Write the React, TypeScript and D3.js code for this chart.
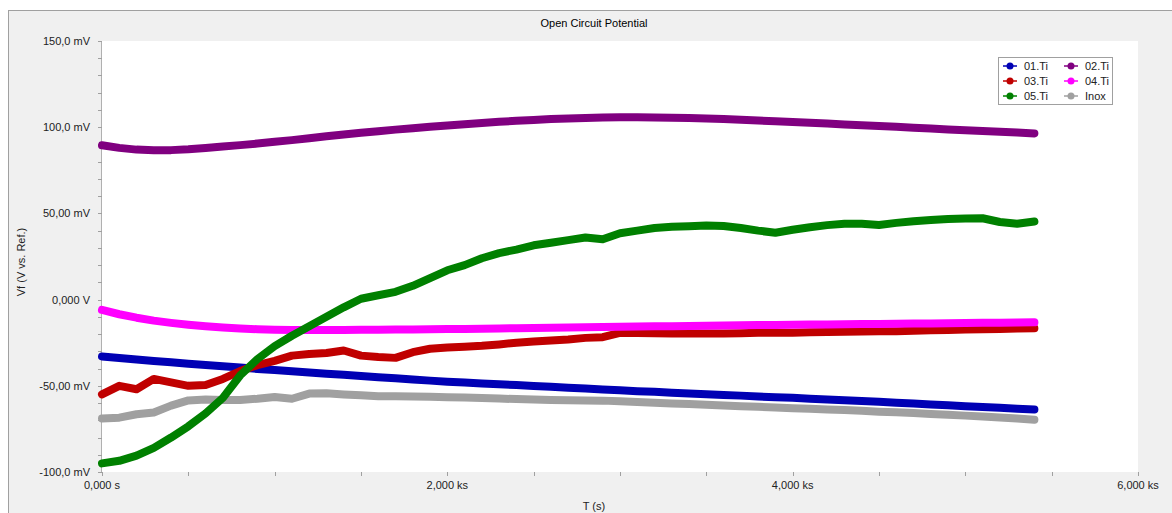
import React from 'react';
import * as d3 from 'd3';

// time in seconds, one reading every 100 s
const times = d3.range(0, 5500, 100);

const ti01 = [-33, -33.9, -34.8, -35.6, -36.4, -37.2, -38, -38.7, -39.4, -40.2, -40.9, -41.6, -42.3, -43, -43.6, -44.3, -45, -45.6, -46.3, -47, -47.6, -48.1, -48.6, -49.1, -49.6, -50.1, -50.6, -51.1, -51.6, -52.1, -52.6, -53.1, -53.5, -54, -54.4, -54.9, -55.3, -55.7, -56.2, -56.6, -57, -57.5, -57.9, -58.4, -58.8, -59.3, -59.8, -60.3, -60.8, -61.3, -61.8, -62.3, -62.8, -63.3, -63.8];
const ti02 = [89.5, 88, 87, 86.6, 86.7, 87.2, 88, 88.8, 89.6, 90.5, 91.5, 92.5, 93.6, 94.7, 95.8, 96.8, 97.7, 98.6, 99.4, 100.2, 101, 101.7, 102.4, 103.1, 103.7, 104.2, 104.7, 105.1, 105.4, 105.6, 105.7, 105.7, 105.6, 105.5, 105.3, 105.1, 104.7, 104.3, 103.9, 103.5, 103, 102.6, 102.1, 101.6, 101.2, 100.7, 100.2, 99.7, 99.2, 98.7, 98.2, 97.8, 97.3, 96.9, 96.4];
const ti03 = [-55, -50, -52, -46, -48, -50, -49.5, -46, -41.5, -38, -35.5, -32.5, -31.5, -31, -29.5, -32.5, -33.3, -33.8, -30.5, -28.5, -27.8, -27.3, -26.8, -26, -25, -24.3, -23.7, -23.2, -22.2, -21.8, -19.3, -19.4, -19.5, -19.6, -19.7, -19.7, -19.6, -19.5, -19.3, -19.2, -19.2, -19, -18.8, -18.6, -18.5, -18.3, -18.4, -18, -17.8, -17.6, -17.4, -17.2, -17, -16.8, -16.6];
const ti04 = [-6, -8.5, -10.5, -12.2, -13.5, -14.6, -15.5, -16.2, -16.8, -17.2, -17.5, -17.6, -17.7, -17.7, -17.6, -17.5, -17.5, -17.4, -17.3, -17.2, -17.1, -17, -16.9, -16.7, -16.6, -16.5, -16.3, -16.2, -16, -15.9, -15.8, -15.6, -15.5, -15.4, -15.3, -15.1, -15, -14.9, -14.8, -14.7, -14.6, -14.5, -14.4, -14.3, -14.2, -14.1, -14, -13.9, -13.8, -13.7, -13.6, -13.5, -13.4, -13.3, -13.2];
const ti05 = [-95, -93.5, -90.5, -86, -80, -73.5, -66, -57, -44, -34.5, -27, -21, -15.5, -10, -4.5, 0.5, 2.5, 4.5, 8, 12.5, 17, 20, 24, 27, 29, 31.5, 33, 34.5, 36, 35, 38.5, 40, 41.5, 42.2, 42.6, 43, 42.7, 41.5, 40, 38.8, 40.5, 42, 43.2, 44, 44, 43.3, 44.5, 45.5, 46.2, 46.8, 47, 47.2, 45, 44, 45.3];
const inox = [-69, -68.5, -66.5, -65.5, -61.5, -58.5, -58, -58.3, -58.2, -57.5, -56.5, -57.5, -54.5, -54.3, -55, -55.5, -56, -56, -56.2, -56.4, -56.6, -56.8, -57.1, -57.4, -57.7, -58, -58.2, -58.4, -58.5, -58.6, -59, -59.4, -59.8, -60.2, -60.6, -61, -61.4, -61.8, -62.2, -62.6, -63, -63.3, -63.7, -64.1, -64.5, -65, -65.4, -65.8, -66.3, -66.8, -67.3, -67.8, -68.4, -69, -69.7];

const seriesNames = ['01.Ti', '02.Ti', '03.Ti', '04.Ti', '05.Ti', 'Inox'];
const seriesValues = [ti01, ti02, ti03, ti04, ti05, inox];
const seriesColors = ['#0000b4', '#800080', '#c00000', '#ff00ff', '#008000', '#a0a0a0'];
const drawOrder = [5, 0, 1, 2, 3, 4];

const yTicks = [150, 100, 50, 0, -50, -100];
const yTickLabels = ['150,0 mV', '100,0 mV', '50,00 mV', '0,000 V', '-50,00 mV', '-100,0 mV'];
const xTicks = [0, 2000, 4000, 6000];
const xTickLabels = ['0,000 s', '2,000 ks', '4,000 ks', '6,000 ks'];

const W = 1172;
const H = 513;
const plot = { left: 102, right: 1138, top: 41, bottom: 472 };
const font = '"Liberation Sans", Arial, sans-serif';

export default function App() {
  const x = d3.scaleLinear().domain([0, 6000]).range([plot.left, plot.right]);
  const y = d3.scaleLinear().domain([-100, 150]).range([plot.bottom, plot.top]);

  const line = d3
    .line<number>()
    .x((d, i) => x(times[i]))
    .y(d => y(d));

  const yMinor = d3.range(-100, 151, 10);
  const xMinor = d3.range(0, 6001, 500);

  const legendX = 998;
  const legendY = 57;

  return (
    <svg
      width={W}
      height={H}
      style={{ position: 'absolute', left: 0, top: 0 }}
      fontFamily={font}
    >
      <rect x={0} y={0} width={W} height={H} fill="#fff" />
      <rect x={8.5} y={10.5} width={W} height={H} fill="#f0f0f0" stroke="#a0a0a0" />
      <rect
        x={plot.left}
        y={plot.top}
        width={plot.right - plot.left}
        height={plot.bottom - plot.top}
        fill="#fff"
      />
      <text x={594} y={27} fontSize={11} textAnchor="middle" fill="#000">
        Open Circuit Potential
      </text>

      {/* y axis */}
      <line
        x1={plot.left - 0.5}
        x2={plot.left - 0.5}
        y1={plot.top}
        y2={plot.bottom}
        stroke="#b0b0b0"
      />
      {yMinor.map(v => (
        <line
          key={'ym' + v}
          x1={plot.left - 4}
          x2={plot.left}
          y1={Math.round(y(v)) + 0.5}
          y2={Math.round(y(v)) + 0.5}
          stroke="#a0a0a0"
        />
      ))}
      {yTicks.map((v, i) => (
        <text
          key={'yt' + v}
          x={90}
          y={y(v) + 4}
          fontSize={11}
          textAnchor="end"
          fill="#222"
        >
          {yTickLabels[i]}
        </text>
      ))}
      <text
        transform="translate(25,262) rotate(-90)"
        fontSize={11}
        textAnchor="middle"
        fill="#222"
      >
        Vf (V vs. Ref.)
      </text>

      {/* x axis */}
      {xMinor.map(v => (
        <line
          key={'xm' + v}
          x1={Math.round(x(v)) + 0.5}
          x2={Math.round(x(v)) + 0.5}
          y1={plot.bottom}
          y2={plot.bottom + 4}
          stroke="#a0a0a0"
        />
      ))}
      {xTicks.map((v, i) => (
        <text
          key={'xt' + v}
          x={x(v)}
          y={489}
          fontSize={11}
          textAnchor="middle"
          fill="#222"
        >
          {xTickLabels[i]}
        </text>
      ))}
      <text x={594} y={510} fontSize={11} textAnchor="middle" fill="#222">
        T (s)
      </text>

      {/* series */}
      {drawOrder.map(si => (
        <path
          key={seriesNames[si]}
          d={line(seriesValues[si]) || ''}
          fill="none"
          stroke={seriesColors[si]}
          strokeWidth={8}
          strokeLinecap="round"
          strokeLinejoin="round"
        />
      ))}

      {/* legend */}
      <rect
        x={legendX + 0.5}
        y={legendY + 0.5}
        width={114}
        height={47}
        fill="#fff"
        stroke="#a0a0a0"
      />
      {seriesNames.map((name, i) => {
        const col = i % 2;
        const row = Math.floor(i / 2);
        const lx = legendX + 5 + col * 61;
        const ly = legendY + 9 + row * 15;
        return (
          <g key={'lg' + name}>
            <line
              x1={lx}
              x2={lx + 14}
              y1={ly}
              y2={ly}
              stroke={seriesColors[i]}
              strokeWidth={1.5}
            />
            <circle cx={lx + 7} cy={ly} r={3.5} fill={seriesColors[i]} />
            <text x={lx + 21} y={ly + 4} fontSize={11} fill="#222">
              {name}
            </text>
          </g>
        );
      })}
    </svg>
  );
}
